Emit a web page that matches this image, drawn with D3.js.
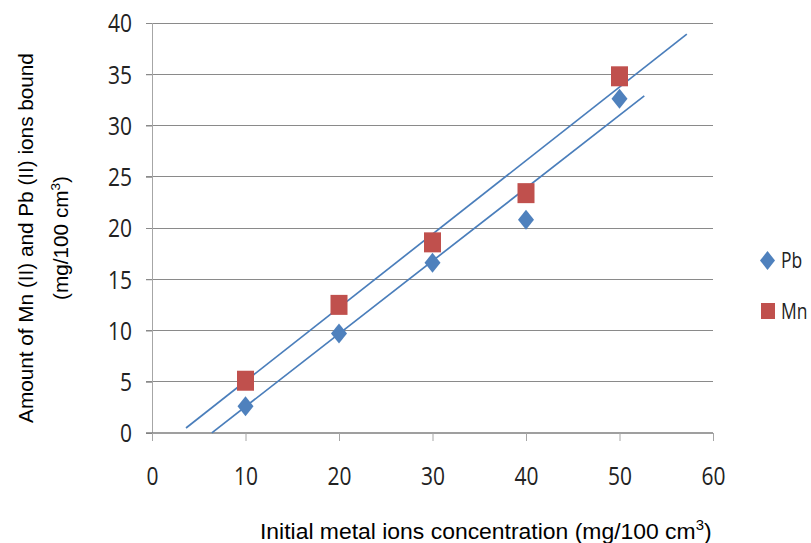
<!DOCTYPE html>
<html><head><meta charset="utf-8">
<script src="https://cdn.jsdelivr.net/npm/d3@7"></script>
<style>body{margin:0;background:#fff}</style>
</head><body>
<svg id="c" width="811" height="543"></svg>
<script>
const xValues = [10, 20, 30, 40, 50];
const pbValues = [2.6, 9.7, 16.6, 20.8, 32.6];
const mnValues = [5.1, 12.5, 18.6, 23.4, 34.8];
// linear trendlines (slope, intercept, x-start, x-end)
const trendSlopes = [0.7106, 0.7175];
const trendIntercepts = [-4.53, -2.12];
const trendStarts = [6.4, 3.64];
const trendEnds = [52.65, 57.2];
const xTicks = [0, 10, 20, 30, 40, 50, 60];
const yTicks = [0, 5, 10, 15, 20, 25, 30, 35, 40];
const seriesNames = ["Pb", "Mn"];

const svg = d3.select("#c");
const x = d3.scaleLinear().domain([0, 60]).range([152, 713]);
const y = d3.scaleLinear().domain([0, 40]).range([433, 23]);
const tickFont = "'Open Sans', 'Noto Sans', sans-serif";
const titleFont = "'Liberation Sans', Arial, sans-serif";

// gridlines
svg.append("g").selectAll("line").data(yTicks.filter(d => d > 0)).join("line")
  .attr("x1", 146).attr("x2", x(60)).attr("y1", d => y(d)).attr("y2", d => y(d))
  .attr("stroke", "#8a8a8a").attr("stroke-width", 1).attr("shape-rendering", "crispEdges");

// y axis
const yAxis = svg.append("g").attr("transform", `translate(${x(0)},0)`)
  .call(d3.axisLeft(y).tickValues(yTicks).tickSize(6).tickSizeOuter(0));
yAxis.select(".domain").attr("stroke", "#a6a6a6").attr("d", `M0.5,${y(40)}V${y(0) + 8}`);
yAxis.selectAll(".tick line").attr("stroke", "#8a8a8a");
yAxis.selectAll("text").attr("font-family", tickFont).attr("font-size", 21).attr("fill", "#222")
  .attr("x", -20).attr("y", 0).attr("dy", "0.357em").attr("transform", "scale(1,1.2)");

// x axis
const xAxis = svg.append("g").attr("transform", `translate(0,${y(0)})`)
  .call(d3.axisBottom(x).tickValues(xTicks).tickSize(8).tickSizeOuter(0));
xAxis.select(".domain").attr("stroke", "#7f7f7f").attr("stroke-width", 1.6).attr("d", `M146,0H${x(60)}`);
xAxis.selectAll(".tick line").attr("stroke", "#a6a6a6");
xAxis.selectAll("text").attr("font-family", tickFont).attr("font-size", 21).attr("fill", "#222")
  .attr("y", 43 / 1.2).attr("dy", "0.357em").attr("transform", "scale(1,1.2)");

// trendlines
[1, 0].forEach(i => {
  svg.append("line")
    .attr("x1", x(trendStarts[i])).attr("y1", y(trendIntercepts[i] + trendSlopes[i] * trendStarts[i]))
    .attr("x2", x(trendEnds[i])).attr("y2", y(trendIntercepts[i] + trendSlopes[i] * trendEnds[i]))
    .attr("stroke", "#4a7ebb").attr("stroke-width", 1.7);
});

const diamond = (cx, cy, w, h) => `M${cx},${cy - h}L${cx + w},${cy}L${cx},${cy + h}L${cx - w},${cy}Z`;

// Mn squares
svg.append("g").selectAll("rect").data(xValues).join("rect")
  .attr("x", d => x(d) - 8.5).attr("y", (d, i) => y(mnValues[i]) - 10)
  .attr("width", 17).attr("height", 20).attr("fill", "#c0504d");
// Pb diamonds
svg.append("g").selectAll("path").data(xValues).join("path")
  .attr("d", (d, i) => diamond(x(d), y(pbValues[i]), 8, 10)).attr("fill", "#4f81bd");

// legend
svg.append("path").attr("d", diamond(767.5, 260.5, 7.5, 9.5)).attr("fill", "#4f81bd");
svg.append("rect").attr("x", 761).attr("y", 303).attr("width", 14).attr("height", 16).attr("fill", "#c0504d");
[[268, 0], [319, 1]].forEach(([by, i]) => {
  svg.append("g").attr("transform", `translate(781,${by}) scale(1,1.2)`)
    .append("text").text(seriesNames[i]).attr("font-family", tickFont).attr("font-size", 17.5).attr("fill", "#222");
});

// axis titles
const F = 20;
function addSupText(g, a, b, anchor) {
  const t = g.append("text").attr("font-family", titleFont).attr("font-size", F).attr("fill", "#000")
    .attr("text-anchor", anchor);
  t.append("tspan").text(a);
  t.append("tspan").text("3").attr("font-size", 13).attr("dy", -8);
  t.append("tspan").text(b).attr("dy", 8);
  return t;
}
// x title
const gx = svg.append("g");
const tx = addSupText(gx, "Initial metal ions concentration (mg/100 cm", ")", "start");
const wx = tx.node().getBBox().width;
gx.attr("transform", `translate(260,539) scale(${452 / wx},${16 / (0.716 * F)})`);

// y title line 1
const gy1 = svg.append("g");
const ty1 = gy1.append("text").attr("font-family", titleFont).attr("font-size", F).attr("fill", "#000")
  .attr("text-anchor", "middle").text("Amount of Mn (II) and Pb (II) ions bound");
const wy = ty1.node().getBBox().width;
const sxY = 370 / wy, syY = 14.5 / (0.716 * F);
gy1.attr("transform", `translate(33,238) rotate(-90) scale(${sxY},${syY})`);
// y title line 2
const gy2 = svg.append("g");
addSupText(gy2, "(mg/100 cm", ")", "middle");
gy2.attr("transform", `translate(68,238) rotate(-90) scale(${sxY},${syY})`);
</script>
</body></html>
